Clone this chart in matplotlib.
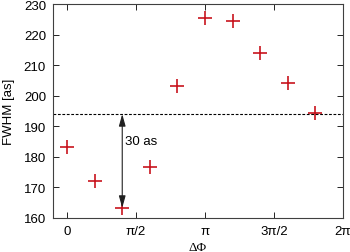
import numpy as np
import matplotlib
matplotlib.use('Agg')
import matplotlib.pyplot as plt

# phase difference in units of pi/5, FWHM in attoseconds
phase_steps = [0, 1, 2, 3, 4, 5, 6, 7, 8, 9]
fwhm = [183.3, 172.1, 163.3, 176.8, 203.2, 225.5, 224.3, 214.1, 204.1, 194.2]
ref_level = 194.0
tick_labels = ['0', 'π/2', 'π', '3π/2', '2π']

plt.rcParams['font.family'] = ['Liberation Sans', 'DejaVu Sans']
plt.rcParams['font.size'] = 9.5

phi = np.array(phase_steps) * np.pi / 5

fig = plt.figure(figsize=(3.5, 2.53), dpi=100)
ax = fig.add_axes([53 / 350, 1 - 219 / 253, 290 / 350, 214 / 253])

ax.plot(phi, fwhm, linestyle='none', marker='+', markersize=10,
        markeredgewidth=1.2, color='#c8141e')
ax.axhline(ref_level, color='black', linestyle=(0, (2.5, 1.5)), linewidth=0.8)

# arrow showing the 30 as difference
ax.annotate('', xy=(phi[2], fwhm[2]), xytext=(phi[2], ref_level),
            arrowprops=dict(arrowstyle='<|-|>,head_length=0.9,head_width=0.25',
                            color='#202020', lw=0.8,
                            mutation_scale=8, shrinkA=0, shrinkB=0))
ax.text(phi[2] + 0.07, 185.3, '30 as', va='center', ha='left')

ax.set_xlim(-0.32, 2 * np.pi)
ax.set_ylim(160, 230)
ax.set_xticks(np.arange(5) * np.pi / 2)
ax.set_xticklabels(tick_labels)
ax.set_yticks(range(160, 231, 10))
ax.tick_params(direction='in', top=True, right=True, length=4, width=0.6, pad=5)
for s in ax.spines.values():
    s.set_linewidth(0.8)
    s.set_color('#404040')

ax.set_ylabel('FWHM [as]', labelpad=6)
ax.set_xlabel('ΔΦ', family=['Liberation Serif', 'DejaVu Serif'], labelpad=3)

fig.savefig('out.png', dpi=100)
